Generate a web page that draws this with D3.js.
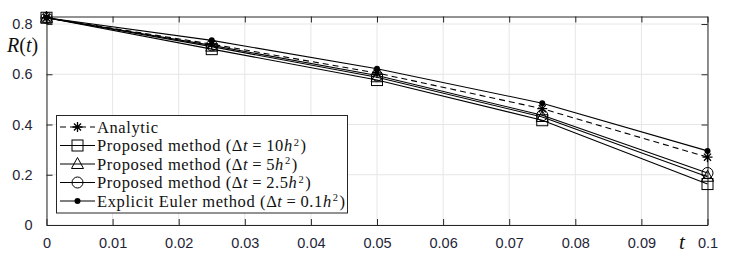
<!DOCTYPE html>
<html><head><meta charset="utf-8">
<script src="https://cdn.jsdelivr.net/npm/d3@7"></script>
<style>body{margin:0;background:#fff}svg{display:block}</style>
</head><body>
<script>
const tValues = [0, 0.025, 0.05, 0.075, 0.1];
const analytic = [0.825, 0.72, 0.605, 0.463, 0.27];
const proposed10 = [0.825, 0.70, 0.577, 0.417, 0.163];
const proposed5 = [0.825, 0.71, 0.588, 0.43, 0.192];
const proposed25 = [0.825, 0.715, 0.595, 0.437, 0.207];
const euler = [0.825, 0.735, 0.622, 0.485, 0.295];
const xTicks = [0, 0.01, 0.02, 0.03, 0.04, 0.05, 0.06, 0.07, 0.08, 0.09, 0.1];
const yTicks = [0, 0.2, 0.4, 0.6, 0.8];
const xTickLabels = ["0","0.01","0.02","0.03","0.04","0.05","0.06","0.07","0.08","0.09","0.1"];
const yTickLabels = ["0","0.2","0.4","0.6","0.8"];
const legendLabels = [
  {pre:"Analytic"},
  {pre:"Proposed method (Δ", num:"10"},
  {pre:"Proposed method (Δ", num:"5"},
  {pre:"Proposed method (Δ", num:"2.5"},
  {pre:"Explicit Euler method (Δ", num:"0.1"}
];

(function(){
const W = 743, H = 262;
const m = {l:46.5, r:35.5, t:16.5, b:37};
const svg = d3.select("body").append("svg").attr("width", W).attr("height", H);
const x = d3.scaleLinear().domain([0, 0.1]).range([m.l, W - m.r]);
const y = d3.scaleLinear().domain([0, 0.83]).range([H - m.b, m.t]);
const axisColor = "#262626";

// grid
const g = svg.append("g");
g.selectAll(".gx").data(xTicks).join("line")
  .attr("x1", d => x(d)).attr("x2", d => x(d)).attr("y1", y(0)).attr("y2", m.t)
  .attr("stroke", "#e6e6e6").attr("stroke-width", 1);
g.selectAll(".gy").data(yTicks).join("line")
  .attr("y1", d => y(d)).attr("y2", d => y(d)).attr("x1", m.l).attr("x2", W - m.r)
  .attr("stroke", "#e6e6e6").attr("stroke-width", 1);

// axes
const tl = 6;
const axB = svg.append("g").attr("transform", `translate(0,${y(0)})`)
  .call(d3.axisBottom(x).tickValues(xTicks).tickFormat((d,i) => xTickLabels[i]).tickSizeInner(-tl).tickSizeOuter(0).tickPadding(12));
const axT = svg.append("g").attr("transform", `translate(0,${m.t})`)
  .call(d3.axisTop(x).tickValues(xTicks).tickFormat("").tickSizeInner(-tl).tickSizeOuter(0));
const axL = svg.append("g").attr("transform", `translate(${m.l},0)`)
  .call(d3.axisLeft(y).tickValues(yTicks).tickFormat((d,i) => yTickLabels[i]).tickSizeInner(-tl).tickSizeOuter(0).tickPadding(14));
const axR = svg.append("g").attr("transform", `translate(${W - m.r},0)`)
  .call(d3.axisRight(y).tickValues(yTicks).tickFormat("").tickSizeInner(-tl).tickSizeOuter(0));
[axB, axT, axL, axR].forEach(a => {
  a.selectAll("path,line").attr("stroke", axisColor);
  a.selectAll("text").attr("fill", "#1f2537").style("font-family", "Liberation Sans, Arial, sans-serif").style("font-size", "14.5px");
});
axB.selectAll("text").attr("dy", "0.35em").attr("y", 17.5);

// axis labels
const rl = svg.append("text").attr("x", 7).attr("y", 52).style("font-family", "Liberation Serif, serif")
  .style("font-size", "20px").attr("fill", "#111");
rl.append("tspan").attr("font-style", "italic").text("R");
rl.append("tspan").text("(");
rl.append("tspan").attr("font-style", "italic").text("t");
rl.append("tspan").text(")");
svg.append("text").attr("x", 679).attr("y", 249).style("font-family", "Liberation Serif, serif")
  .style("font-size", "21px").style("font-style", "italic").attr("fill", "#111").text("t");

// series
const series = [
  {v: analytic, dash: "6,4", marker: "star"},
  {v: proposed10, dash: null, marker: "square"},
  {v: proposed5, dash: null, marker: "triangle"},
  {v: proposed25, dash: null, marker: "circle"},
  {v: euler, dash: null, marker: "dot"}
];
const line = d3.line().x((d,i) => x(tValues[i])).y(d => y(d));

function drawMarker(sel, type, cx, cy) {
  const s = sel.append("g").attr("transform", `translate(${cx},${cy})`);
  if (type === "square") {
    s.append("rect").attr("x", -5.5).attr("y", -5.5).attr("width", 11).attr("height", 11)
      .attr("fill", "none").attr("stroke", "#000").attr("stroke-width", 1);
  } else if (type === "triangle") {
    s.append("path").attr("d", "M0,-6.5L6,4.5L-6,4.5Z").attr("fill", "none").attr("stroke", "#000").attr("stroke-width", 1);
  } else if (type === "circle") {
    s.append("circle").attr("r", 5.5).attr("fill", "none").attr("stroke", "#000").attr("stroke-width", 1);
  } else if (type === "dot") {
    s.append("circle").attr("r", 3).attr("fill", "#000");
  } else if (type === "star") {
    const r = 5;
    let d = "";
    [0, 45, 90, 135].forEach(a => {
      const rad = a * Math.PI / 180;
      d += `M${-r*Math.cos(rad)},${-r*Math.sin(rad)}L${r*Math.cos(rad)},${r*Math.sin(rad)}`;
    });
    s.append("path").attr("d", d).attr("stroke", "#000").attr("stroke-width", 1.3);
  }
}

const plot = svg.append("g");
series.forEach(s => {
  plot.append("path").datum(s.v).attr("d", line).attr("fill", "none")
    .attr("stroke", "#000").attr("stroke-width", 1.1)
    .attr("stroke-dasharray", s.dash);
  s.v.forEach((d, i) => drawMarker(plot, s.marker, x(tValues[i]), y(d)));
});

// legend
const lg = svg.append("g");
const lx = 56.5, ly = 115.5, lw = 291, lh = 97.5;
lg.append("rect").attr("x", lx).attr("y", ly).attr("width", lw).attr("height", lh)
  .attr("fill", "#fff").attr("stroke", axisColor).attr("stroke-width", 1);
const rowY = [127, 145.5, 164, 182.5, 201];
series.forEach((s, i) => {
  const yy = rowY[i];
  lg.append("line").attr("x1", 60).attr("x2", 95).attr("y1", yy).attr("y2", yy)
    .attr("stroke", "#000").attr("stroke-width", 1.1).attr("stroke-dasharray", s.dash);
  drawMarker(lg, s.marker, 77.5, yy);
  const L = legendLabels[i];
  const t = lg.append("text").attr("x", 97).attr("y", yy + 5.5).attr("fill", "#111")
    .style("font-family", "Liberation Serif, serif").style("font-size", "16.5px")
    .style("letter-spacing", "0.6px");
  if (!L.num) {
    t.text(L.pre);
  } else {
    t.append("tspan").text(L.pre);
    t.append("tspan").attr("font-style", "italic").text("t");
    t.append("tspan").attr("dx", 4).text("=");
    t.append("tspan").attr("dx", 4).text(L.num);
    t.append("tspan").attr("font-style", "italic").text("h");
    t.append("tspan").attr("dy", -5.5).attr("dx", 1).style("font-size", "10.5px").text("2");
    t.append("tspan").attr("dy", 5.5).attr("dx", 1).text(")");
  }
});
})();
</script>
</body></html>
